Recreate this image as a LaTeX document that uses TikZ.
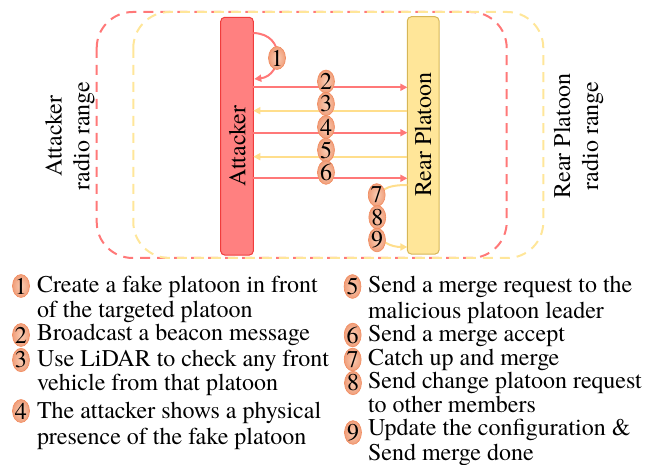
\documentclass[tikz,border=0pt]{standalone}
\usepackage{fontspec}
\setmainfont{texgyretermes-regular.otf}
\usetikzlibrary{arrows.meta,shapes.geometric}
\definecolor{attfill}{RGB}{255,128,128}
\definecolor{attline}{RGB}{240,60,60}
\definecolor{rearfill}{RGB}{255,230,153}
\definecolor{rearline}{RGB}{214,182,86}
\definecolor{redline}{RGB}{255,120,120}
\definecolor{yelline}{RGB}{255,222,140}
\definecolor{badgein}{RGB}{250,205,180}
\definecolor{badgeout}{RGB}{240,158,122}
\definecolor{badgeline}{RGB}{242,140,95}

\begin{document}
\begin{tikzpicture}[x=1pt,y=-1pt,
  every node/.style={inner sep=0pt, outer sep=0pt},
  txt/.style={font=\rmfamily\fontsize{24}{24}\selectfont},
  vehicle/.style={rectangle, rounded corners=4pt, line width=1pt},
  rangebox/.style={line width=2pt, dash pattern=on 10pt off 7pt, rounded corners=36pt},
  redarr/.style={draw=redline, line width=2pt, -{Triangle[length=7pt,width=7pt]}},
  yelarr/.style={draw=yelline, line width=2pt, -{Triangle[length=7pt,width=7pt]}},
  badge/.style={ellipse, minimum width=16pt, minimum height=21.5pt, draw=badgeline,
    line width=0.6pt, inner color=badgein, outer color=badgeout, txt},
  lbadge/.style={badge, minimum width=16pt, minimum height=20pt},
  item/.style={txt, anchor=base west},
  vlabel/.style={txt, rotate=90, anchor=base}]
\useasboundingbox (0,0) rectangle (662,465);

% radio ranges
\draw[rangebox, draw=redline] (96.7,12) rectangle (506.7,258);
\draw[rangebox, draw=rearfill] (133.3,12) rectangle (543.3,258);

% range labels
\node[vlabel] (alab1) at (61.7,136) {Attacker};
\node[vlabel] (alab2) at (89.3,136) {radio range};
\node[vlabel] (rlab1) at (570,136) {Rear Platoon};
\node[vlabel] (rlab2) at (598,136) {radio range};

% vehicles
\node[vehicle, fill=attfill, draw=attline, minimum width=32.6pt, minimum height=237.7pt] (att) at (237,136.2) {};
\node[vehicle, fill=rearfill, draw=rearline, minimum width=31.7pt, minimum height=237.3pt] (rear) at (423.2,135.4) {};
\node[vlabel] (attname) at (245.3,146) {Attacker};
\node[vlabel] (rearname) at (431,134.5) {Rear Platoon};

% message levels
\coordinate (s1a) at (0,33);
\coordinate (s1b) at (0,79);
\coordinate (s2) at (0,87.3);
\coordinate (s3) at (0,110.7);
\coordinate (s4) at (0,132.7);
\coordinate (s5) at (0,156.7);
\coordinate (s6) at (0,178.3);
\coordinate (s7) at (0,185);
\coordinate (s9) at (0,247);

% step 1: self loop on the attacker
\draw[redarr] (att.east |- s1a) .. controls (287,34) and (282,76) .. ([xshift=1pt]att.east |- s1b);
% steps 2-6: message exchange
\draw[redarr] (att.east |- s2) -- (rear.west |- s2);
\draw[yelarr] (rear.west |- s3) -- (att.east |- s3);
\draw[redarr] (att.east |- s4) -- (rear.west |- s4);
\draw[yelarr] (rear.west |- s5) -- (att.east |- s5);
\draw[redarr] (att.east |- s6) -- (rear.west |- s6);
% steps 7-9: merge loop on the rear platoon
\draw[yelarr] (rear.west |- s7) .. controls (386,185) and (377,190) .. (377,205)
  -- (377,228) .. controls (377,242) and (392,247) .. (rear.west |- s9);

% step badges
\node[badge] (b1) at (277,58) {1};
\node[badge] (b2) at (326,81.5) {2};
\node[badge] (b3) at (326,104) {3};
\node[badge] (b4) at (326,127) {4};
\node[badge] (b5) at (326,150) {5};
\node[badge] (b6) at (326,172.5) {6};
\node[badge] (b7) at (376.7,195) {7};
\node[badge] (b8) at (377.3,217.3) {8};
\node[badge] (b9) at (377,240) {9};

% legend, left column
\node[lbadge] (l1) at (21,286) {1};
\node[item] (t1a) at (37,292.7) {Create a fake platoon in front};
\node[item] (t1b) at (37,317.3) {of the targeted platoon};
\node[lbadge] (l2) at (21,335) {2};
\node[item] (t2a) at (37,341) {Broadcast a beacon message};
\node[lbadge] (l3) at (21,360) {3};
\node[item] (t3a) at (37,366.5) {Use LiDAR to check any front};
\node[item] (t3b) at (37,391) {vehicle from that platoon};
\node[lbadge] (l4) at (21,411) {4};
\node[item] (t4a) at (37,418.5) {The attacker shows a physical};
\node[item] (t4b) at (37,444) {presence of the fake platoon};

% legend, right column
\node[lbadge] (l5) at (352.5,286.5) {5};
\node[item] (t5a) at (368,292.7) {Send a merge request to the};
\node[item] (t5b) at (368,318.5) {malicious platoon leader};
\node[lbadge] (l6) at (352.7,335) {6};
\node[item] (t6a) at (368,341.5) {Send a merge accept};
\node[lbadge] (l7) at (352.7,359.5) {7};
\node[item] (t7a) at (368,365.3) {Catch up and merge};
\node[lbadge] (l8) at (353,383) {8};
\node[item] (t8a) at (368,388.3) {Send change platoon request};
\node[item] (t8b) at (368,412.5) {to other members};
\node[lbadge] (l9) at (353,432.5) {9};
\node[item] (t9a) at (368,435.3) {Update the configuration \&};
\node[item] (t9b) at (368,460.5) {Send merge done};
\end{tikzpicture}
\end{document}
